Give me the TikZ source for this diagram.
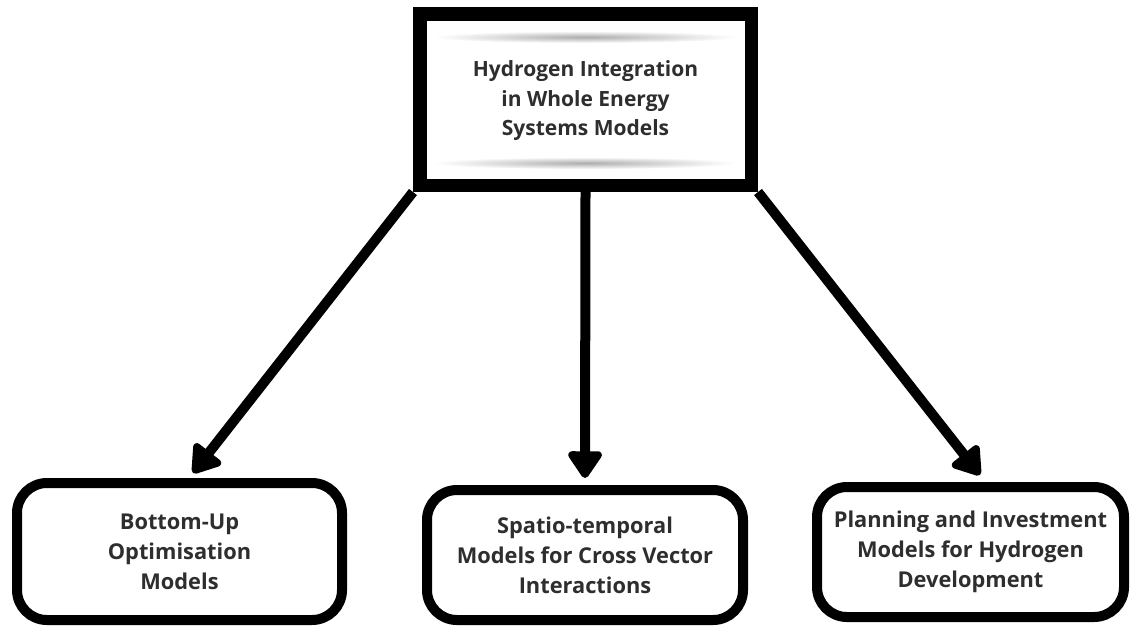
\documentclass[tikz,border=0pt]{standalone}
\usepackage{fontspec}
\setmainfont{Open Sans}
\usetikzlibrary{arrows.meta}
\tikzset{
  topbox/.style={draw=black, line width=13.5pt, fill=white, rectangle, minimum width=331.5pt, minimum height=171.5pt, align=center, inner sep=0pt},
  leafbox/.style={draw=black, line width=10pt, fill=white, rectangle, rounded corners=30pt, align=center, inner sep=0pt},
  lbl/.style={font=\fontsize{21}{29.5}\selectfont\bfseries, text=black!82},
  leaflbl/.style={font=\fontsize{21.8}{30}\selectfont\bfseries, text=black!82},
  conn/.style={line width=10pt, -{Triangle[length=30pt, width=38pt, round]}},
}
\begin{document}
\begin{tikzpicture}[x=1pt, y=-1pt]
\useasboundingbox (0,0) rectangle (1131,629);
\node[topbox] (tb) at (585.5,99.5) {};
\shade[inner color=black!32, outer color=white] (585,37) ellipse (152 and 6);
\shade[inner color=black!32, outer color=white] (585,163) ellipse (152 and 6);
\node[lbl, align=center] (tbt) at (585.5,101) {Hydrogen Integration\\in Whole Energy\\Systems Models};
\node[leafbox, leaflbl, minimum width=325pt, minimum height=137pt] (b1) at (179.5,551.5) {Bottom-Up\\Optimisation\\Models};
\node[leafbox, leaflbl, minimum width=316pt, minimum height=130pt] (b2) at (585,555) {Spatio-temporal\\Models for Cross Vector\\Interactions};
\node[leafbox, leaflbl, minimum width=307pt, minimum height=130pt] (b3) at (970.5,552) {Planning and Investment\\Models for Hydrogen\\Development};
\draw[conn] (tb.south west) -- ([xshift=13.5pt, yshift=5pt]b1.north);
\draw[conn] (tb.south) -- ([yshift=7pt]b2.north);
\draw[conn] (tb.south east) -- ([xshift=9.5pt, yshift=7pt]b3.north);
\end{tikzpicture}
\end{document}
